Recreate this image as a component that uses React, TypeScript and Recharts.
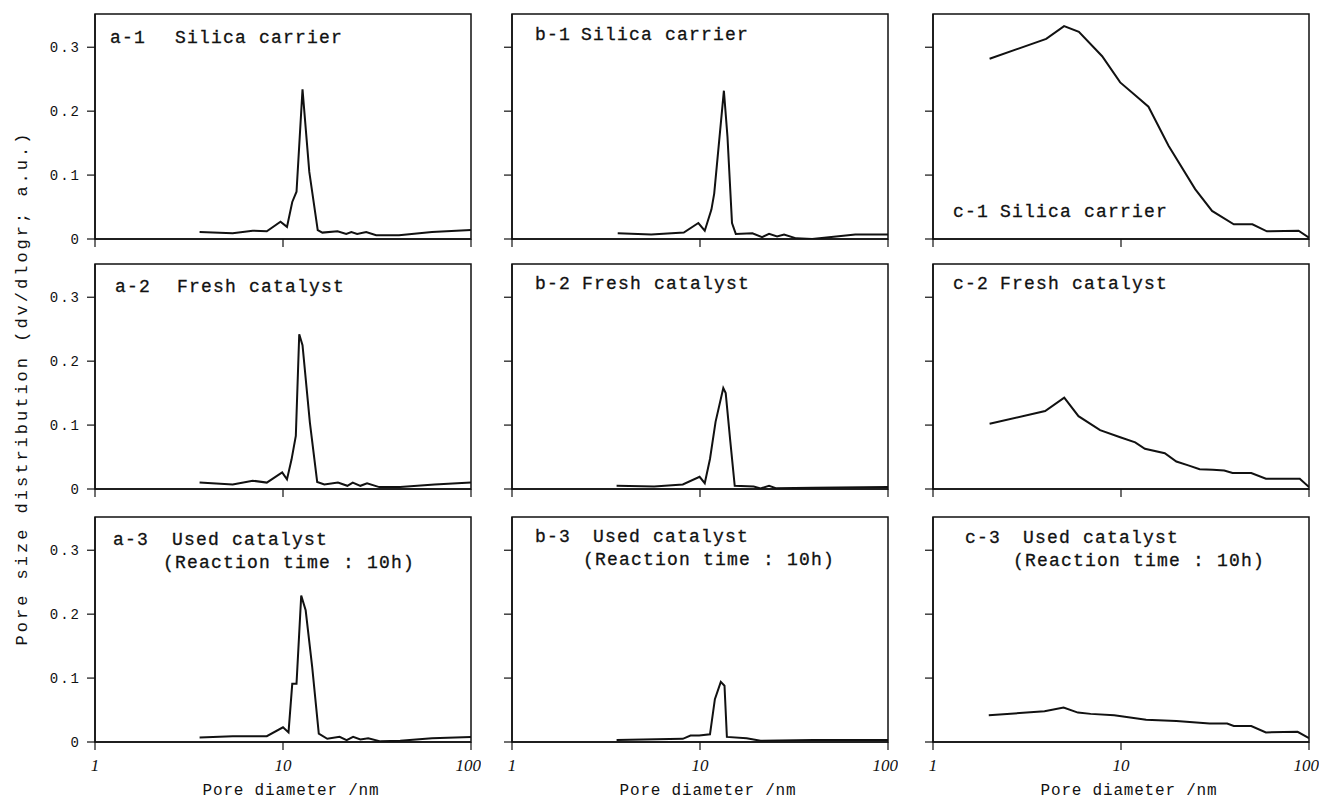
import React from 'react';
import { LineChart, Line, XAxis, YAxis, ReferenceArea } from 'recharts';

// pore diameter (nm) and dv/dlogr values
const dA1 = [3.6, 5.4, 6.9, 8.2, 9.7, 10.5, 11.2, 11.8, 12.7, 13.8, 15.3, 16.2, 19.5, 21.7, 23.1, 24.8, 27.7, 31.3, 41.4, 62, 100];
const vA1 = [0.011, 0.009, 0.013, 0.012, 0.027, 0.019, 0.058, 0.074, 0.234, 0.105, 0.014, 0.01, 0.012, 0.008, 0.011, 0.008, 0.011, 0.006, 0.006, 0.011, 0.014];

const dA2 = [3.6, 5.4, 6.9, 8.2, 9.9, 10.5, 11.1, 11.7, 12.2, 12.7, 13.9, 15.2, 16.6, 19.6, 22, 23.5, 25.8, 28, 32.5, 42, 64, 100];
const vA2 = [0.01, 0.007, 0.013, 0.01, 0.026, 0.015, 0.046, 0.083, 0.242, 0.225, 0.104, 0.011, 0.007, 0.01, 0.005, 0.01, 0.005, 0.009, 0.003, 0.003, 0.007, 0.01];

const dA3 = [3.6, 5.4, 8.2, 10, 10.7, 11.2, 11.8, 12.5, 13.2, 14.3, 15.5, 17.2, 20, 21.8, 23.6, 25.8, 28.4, 33, 42, 62, 100];
const vA3 = [0.007, 0.009, 0.009, 0.023, 0.015, 0.091, 0.091, 0.229, 0.206, 0.117, 0.013, 0.005, 0.008, 0.003, 0.008, 0.004, 0.006, 0.001, 0.002, 0.006, 0.008];

const dB1 = [3.65, 5.5, 8.2, 9.8, 10.6, 11.5, 11.9, 13.4, 14, 14.8, 15.5, 19, 21.4, 23.3, 25.7, 28, 32.5, 39.5, 67, 100];
const vB1 = [0.009, 0.007, 0.01, 0.025, 0.013, 0.046, 0.071, 0.232, 0.16, 0.025, 0.008, 0.009, 0.003, 0.008, 0.004, 0.007, 0.001, 0.0, 0.007, 0.007];

const dB2 = [3.6, 5.7, 8.1, 9.95, 10.6, 11.3, 12.1, 13.3, 13.7, 14.5, 15.3, 19.3, 21, 23.3, 25.5, 40, 100];
const vB2 = [0.005, 0.004, 0.007, 0.019, 0.009, 0.047, 0.105, 0.158, 0.15, 0.074, 0.005, 0.004, 0.001, 0.005, 0.001, 0.002, 0.003];

const dB3 = [3.6, 8.1, 8.9, 9.9, 11.3, 12, 12.9, 13.5, 13.9, 17.7, 21, 40, 100];
const vB3 = [0.003, 0.005, 0.01, 0.01, 0.012, 0.067, 0.094, 0.088, 0.008, 0.006, 0.002, 0.003, 0.003];

const dC1 = [2.0, 4.0, 4.98, 5.97, 7.94, 9.9, 11.9, 14, 17.9, 24.8, 30.5, 39.8, 50, 59.7, 88, 100];
const vC1 = [0.282, 0.313, 0.333, 0.324, 0.286, 0.245, 0.225, 0.207, 0.146, 0.078, 0.044, 0.023, 0.023, 0.012, 0.013, 0.002];

const dC2 = [2.0, 3.95, 4.99, 5.94, 7.74, 9.9, 11.9, 13.4, 17.1, 19.7, 22.8, 26.2, 30.8, 35.4, 39.2, 49.3, 59, 89.3, 100];
const vC2 = [0.102, 0.122, 0.143, 0.114, 0.092, 0.081, 0.073, 0.063, 0.056, 0.043, 0.037, 0.031, 0.03, 0.029, 0.025, 0.025, 0.016, 0.016, 0.003];

const dC3 = [1.98, 3.92, 4.95, 5.9, 6.9, 9.2, 13.6, 19.7, 29.6, 36.7, 39.8, 49.3, 59, 87, 100];
const vC3 = [0.042, 0.048, 0.054, 0.046, 0.044, 0.042, 0.035, 0.033, 0.029, 0.029, 0.025, 0.025, 0.015, 0.016, 0.006];

const xTicks = [1, 10, 100];
const yTicks = [0, 0.1, 0.2, 0.3];
const yMax = 0.352;
const yLabel = 'Pore size distribution (dv/dlogr; a.u.)';
const xLabel = 'Pore diameter /nm';
const sub = '(Reaction time : 10h)';

const MONO = '"Liberation Mono", "DejaVu Sans Mono", monospace';

// plot area layout
const colLeft = [95, 512, 933];
const rowTop = [14, 264, 517];
const PW = 376;
const PH = 225;

const panels = [
  { d: dA1, v: vA1, col: 0, row: 0, id: 'a-1', name: 'Silica carrier', tx: 110, nx: 175, ty: 43 },
  { d: dA2, v: vA2, col: 0, row: 1, id: 'a-2', name: 'Fresh catalyst', tx: 115, nx: 177, ty: 292 },
  { d: dA3, v: vA3, col: 0, row: 2, id: 'a-3', name: 'Used catalyst', tx: 113, nx: 172, ty: 545, sx: 163 },
  { d: dB1, v: vB1, col: 1, row: 0, id: 'b-1', name: 'Silica carrier', tx: 535, nx: 581, ty: 40 },
  { d: dB2, v: vB2, col: 1, row: 1, id: 'b-2', name: 'Fresh catalyst', tx: 535, nx: 582, ty: 289 },
  { d: dB3, v: vB3, col: 1, row: 2, id: 'b-3', name: 'Used catalyst', tx: 535, nx: 593, ty: 542, sx: 583 },
  { d: dC1, v: vC1, col: 2, row: 0, id: 'c-1', name: 'Silica carrier', tx: 953, nx: 1000, ty: 217 },
  { d: dC2, v: vC2, col: 2, row: 1, id: 'c-2', name: 'Fresh catalyst', tx: 953, nx: 1000, ty: 289 },
  { d: dC3, v: vC3, col: 2, row: 2, id: 'c-3', name: 'Used catalyst', tx: 965, nx: 1023, ty: 543, sx: 1013 },
];

const Panel = ({ p }) => {
  const data = p.d.map((d, i) => ({ d, v: p.v[i] }));
  const bottom = p.row === 2;
  const first = p.col === 0;
  return (
    <div style={{ position: 'absolute', left: colLeft[p.col] - 60, top: rowTop[p.row] - 10 }}>
      <LineChart width={60 + PW + 10} height={10 + PH + 40} data={data}
        margin={{ top: 10, right: 10, bottom: 0, left: 10 }}>
        <XAxis dataKey="d" type="number" scale="log" domain={[1, 100]} ticks={xTicks}
          allowDataOverflow height={40} tickSize={8} tickMargin={9}
          axisLine={{ stroke: '#111', strokeWidth: 1.5 }} tickLine={{ stroke: '#111', strokeWidth: 1.2 }}
          tickFormatter={(t) => (bottom ? String(t) : '')}
          tick={{ fill: '#111', fontSize: 17, fontStyle: 'italic', fontFamily: '"Liberation Serif", serif' }} />
        <YAxis domain={[0, yMax]} ticks={yTicks} width={50} tickSize={8} tickMargin={6}
          allowDataOverflow
          axisLine={{ stroke: '#111', strokeWidth: 1.5 }} tickLine={{ stroke: '#111', strokeWidth: 1.2 }}
          tickFormatter={(t) => (first ? (t === 0 ? '0' : t.toFixed(1)) : '')}
          tick={{ fill: '#111', fontSize: 14, fontFamily: MONO, letterSpacing: 2 }} />
        <ReferenceArea x1={1} x2={100} y1={0} y2={yMax} fill="none" stroke="#111" strokeWidth={1.5}
          ifOverflow="visible" />
        <Line type="linear" dataKey="v" stroke="#111" strokeWidth={2} dot={false} isAnimationActive={false} />
      </LineChart>
    </div>
  );
};

const App = () => {
  const titleStyle = { fontFamily: MONO, fontSize: 18, letterSpacing: 1.2, fill: '#111', stroke: '#111', strokeWidth: 0.3 };
  return (
    <div style={{ position: 'absolute', left: 0, top: 0, width: 1327, height: 799, background: '#fff' }}>
      {panels.map((p) => <Panel key={p.id} p={p} />)}
      <svg width={1327} height={799} style={{ position: 'absolute', left: 0, top: 0, pointerEvents: 'none' }}>
        {panels.map((p) => (
          <g key={p.id} style={titleStyle}>
            <text x={p.tx} y={p.ty}>{p.id}</text>
            <text x={p.nx} y={p.ty}>{p.name}</text>
            {p.sx ? <text x={p.sx} y={p.ty + 23}>{sub}</text> : null}
          </g>
        ))}
        <text x={22} y={388} transform="rotate(-90, 22, 388)" textAnchor="middle" dominantBaseline="central"
          style={{ fontFamily: MONO, fontSize: 17, letterSpacing: 3, fill: '#111' }}>{yLabel}</text>
        {colLeft.map((l, i) => (
          <text key={i} x={l + PW / 2 + 8} y={795} textAnchor="middle"
            style={{ fontFamily: MONO, fontSize: 16, letterSpacing: 0.8, fill: '#111' }}>{xLabel}</text>
        ))}
      </svg>
    </div>
  );
};

export default App;
